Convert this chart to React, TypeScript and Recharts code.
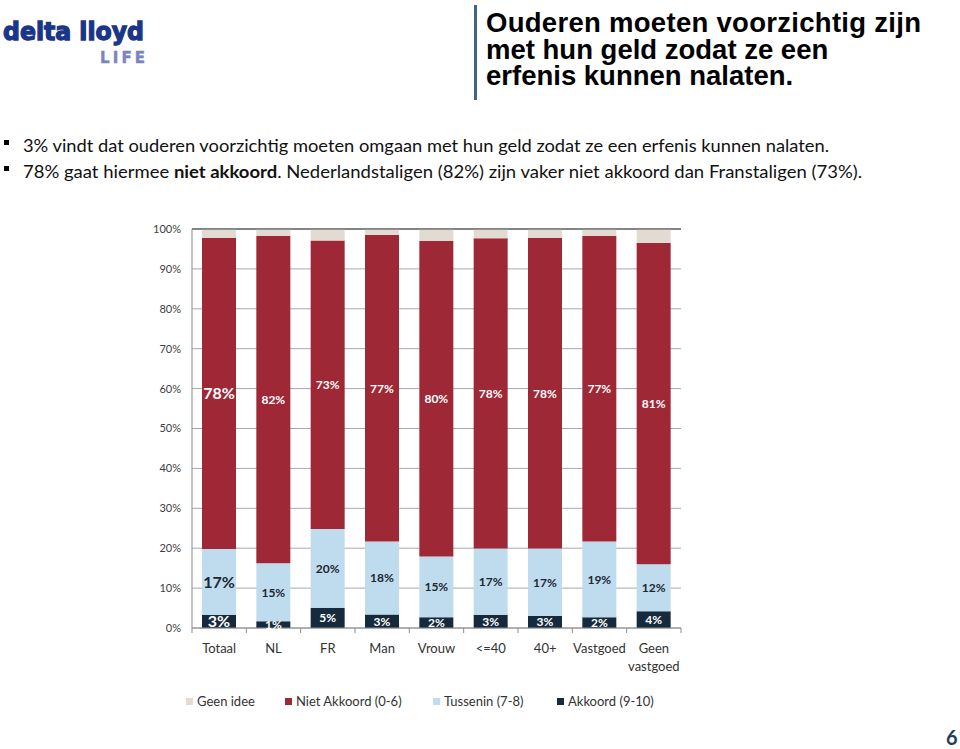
import { BarChart, Bar, XAxis, YAxis, CartesianGrid, ReferenceLine, LabelList } from 'recharts';

// categorieën en waarden (in %)
const CATEGORIES = ['Totaal', 'NL', 'FR', 'Man', 'Vrouw', '<=40', '40+', 'Vastgoed', 'Geen vastgoed'];
const AKKOORD = [3.3, 1.7, 5.1, 3.4, 2.7, 3.3, 3.0, 2.7, 4.2];
const TUSSENIN = [16.5, 14.5, 19.7, 18.3, 15.2, 16.6, 16.9, 19.0, 11.8];
const NIET_AKKOORD = [78.0, 82.1, 72.3, 76.8, 79.1, 77.8, 77.9, 76.6, 80.5];
const GEEN_IDEE = [2.2, 1.7, 2.9, 1.5, 3.0, 2.3, 2.2, 1.7, 3.5];

// labels zoals ze in de balken staan
const AKKOORD_LABELS = [3, 1, 5, 3, 2, 3, 3, 2, 4];
const TUSSENIN_LABELS = [17, 15, 20, 18, 15, 17, 17, 19, 12];
const NIET_LABELS = [78, 82, 73, 77, 80, 78, 78, 77, 81];

const Y_TICKS = [0, 10, 20, 30, 40, 50, 60, 70, 80, 90, 100];

const COLORS = {
    geen: '#e2dbd3',
    niet: '#9e2836',
    tussen: '#bfdcee',
    akkoord: '#162a3e',
};

const LEGEND = [
    { name: 'Geen idee', color: '#e2dbd3' },
    { name: 'Niet Akkoord (0-6)', color: '#9e2836' },
    { name: 'Tussenin (7-8)', color: '#bfdcee' },
    { name: 'Akkoord (9-10)', color: '#162a3e' },
];
const LEGEND_X = [186, 285, 433, 557];

const FONT = 'Lato, "Open Sans", sans-serif';

const data = CATEGORIES.map((c, i) => ({
    name: c,
    akkoord: AKKOORD[i],
    tussen: TUSSENIN[i],
    niet: NIET_AKKOORD[i],
    geen: GEEN_IDEE[i],
}));

// plot-gebied
const PLOT_LEFT = 192;
const PLOT_RIGHT = 681;
const PLOT_TOP = 229;
const PLOT_BOTTOM = 628;
const Y_AXIS_W = 50;
const X_AXIS_H = 50;
const HALF_BAND = (PLOT_RIGHT - PLOT_LEFT) / CATEGORIES.length / 2;

function makeLabel(labels: number[], color: string) {
    return (props: any) => {
        const { x, y, width, height, index } = props;
        const big = index === 0;
        return (
            <text
                x={Number(x) + Number(width) / 2}
                y={Number(y) + Number(height) / 2}
                dy="0.36em"
                textAnchor="middle"
                fill={color}
                fontSize={big ? 16 : 12}
                fontWeight="bold"
                fontFamily={FONT}
            >
                {labels[index]}%
            </text>
        );
    };
}

function CategoryTick(props: any) {
    const { x, y, payload, index } = props;
    const axisY = y - 8;
    const words = payload.value === 'Geen vastgoed' ? ['Geen', 'vastgoed'] : [payload.value];
    return (
        <g>
            <line x1={x - HALF_BAND} y1={axisY} x2={x - HALF_BAND} y2={axisY + 5} stroke="#8c8c8c" />
            {index === CATEGORIES.length - 1 && (
                <line x1={x + HALF_BAND} y1={axisY} x2={x + HALF_BAND} y2={axisY + 5} stroke="#8c8c8c" />
            )}
            {words.map((w, i) => (
                <text key={w} x={x} y={y + 17 + i * 18} textAnchor="middle" fontSize={13} fill="#333" fontFamily={FONT}>
                    {w}
                </text>
            ))}
        </g>
    );
}

export default function App() {
    return (
        <div style={{ position: 'absolute', left: 0, top: 0, width: 960, height: 749, background: '#fff', overflow: 'hidden' }}>
            <BarChart
                width={960}
                height={749}
                data={data}
                barSize={34}
                margin={{ top: PLOT_TOP, right: 960 - PLOT_RIGHT, bottom: 749 - PLOT_BOTTOM - X_AXIS_H, left: PLOT_LEFT - Y_AXIS_W }}
            >
                <CartesianGrid vertical={false} stroke="#a8a8a8" />
                <XAxis
                    dataKey="name"
                    height={X_AXIS_H}
                    tickLine={false}
                    axisLine={{ stroke: '#8c8c8c' }}
                    tick={<CategoryTick />}
                    interval={0}
                />
                <YAxis
                    width={Y_AXIS_W}
                    domain={[0, 100]}
                    ticks={Y_TICKS}
                    tickFormatter={(v) => `${v}%`}
                    tickLine={false}
                    tickMargin={5}
                    axisLine={{ stroke: '#8c8c8c' }}
                    tick={{ fontSize: 11, fill: '#404040', fontFamily: FONT }}
                />
                <YAxis yAxisId="r" orientation="right" width={0} tick={false} tickLine={false} axisLine={{ stroke: '#4a4a4a' }} />
                <ReferenceLine y={100} stroke="#4a4a4a" />
                <Bar dataKey="akkoord" stackId="a" fill={COLORS.akkoord} isAnimationActive={false}>
                    <LabelList dataKey="akkoord" content={makeLabel(AKKOORD_LABELS, '#ffffff')} />
                </Bar>
                <Bar dataKey="tussen" stackId="a" fill={COLORS.tussen} isAnimationActive={false}>
                    <LabelList dataKey="tussen" content={makeLabel(TUSSENIN_LABELS, '#1c2733')} />
                </Bar>
                <Bar dataKey="niet" stackId="a" fill={COLORS.niet} isAnimationActive={false}>
                    <LabelList dataKey="niet" content={makeLabel(NIET_LABELS, '#ffffff')} />
                </Bar>
                <Bar dataKey="geen" stackId="a" fill={COLORS.geen} isAnimationActive={false} />
            </BarChart>

            {/* teksten rondom de grafiek */}
            <svg width={960} height={749} style={{ position: 'absolute', left: 0, top: 0, pointerEvents: 'none' }}>
                <text x={3} y={39.5} fontFamily='"DejaVu Sans", sans-serif' fontWeight="bold" fontSize={25} fill="#1b3587" stroke="#1b3587" strokeWidth={1.3} textLength={141} lengthAdjust="spacingAndGlyphs">
                    delta lloyd
                </text>
                <text x={100} y={63} fontFamily='"DejaVu Sans", sans-serif' fontWeight="bold" fontSize={15} fill="#7b84bf" stroke="#7b84bf" strokeWidth={0.4} textLength={45} lengthAdjust="spacing">
                    LIFE
                </text>

                <rect x={474} y={5} width={3} height={95} fill="#3d6687" />
                <g fontFamily='"Liberation Sans", Arial, sans-serif' fontWeight="bold" fontSize={27.5} fill="#000">
                    <text x={486} y={32} textLength={435}>Ouderen moeten voorzichtig zijn</text>
                    <text x={486} y={58.5}>met hun geld zodat ze een</text>
                    <text x={486} y={85}>erfenis kunnen nalaten.</text>
                </g>

                <rect x={4} y={140} width={5} height={5} fill="#000" />
                <rect x={4} y={166} width={5} height={5} fill="#000" />
                <g fontFamily={FONT} fontSize={16.5} fill="#111">
                    <text x={23} y={152} textLength={806} lengthAdjust="spacingAndGlyphs">
                        3% vindt dat ouderen voorzichtig moeten omgaan met hun geld zodat ze een erfenis kunnen nalaten.
                    </text>
                    <text x={23} y={178} textLength={839} lengthAdjust="spacingAndGlyphs">
                        78% gaat hiermee <tspan fontWeight="bold">niet akkoord</tspan>. Nederlandstaligen (82%) zijn vaker niet akkoord dan Franstaligen (73%).
                    </text>
                </g>

                {LEGEND.map((item, i) => (
                    <g key={item.name}>
                        <rect x={LEGEND_X[i]} y={698} width={7} height={7} fill={item.color} />
                        <text x={LEGEND_X[i] + 11} y={706} fontFamily={FONT} fontSize={13} fill="#333">
                            {item.name}
                        </text>
                    </g>
                ))}

                <text x={946} y={745} fontFamily={FONT} fontWeight="bold" fontSize={20} fill="#1f3d5c">
                    6
                </text>
            </svg>
        </div>
    );
}
